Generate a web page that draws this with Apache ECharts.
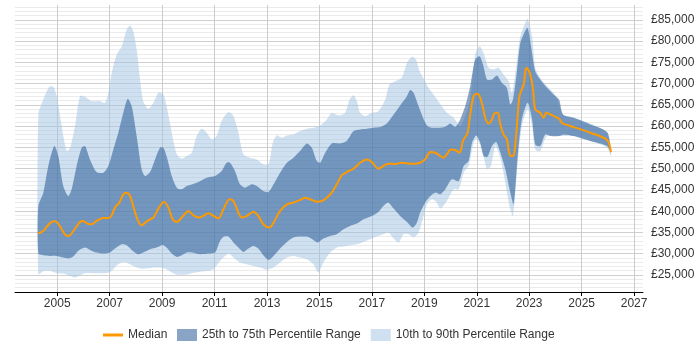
<!DOCTYPE html>
<html>
<head>
<meta charset="utf-8">
<script src="https://cdn.jsdelivr.net/npm/echarts@6/dist/echarts.min.js"></script>
<style>html,body{margin:0;padding:0;background:#fff}#c{width:700px;height:350px}</style>
</head>
<body>
<div id="c"></div>
<script>
// ---- Data (year, salary in GBP) ----
const p90 = [[2004.28,62760],[2004.47,66280],[2004.70,69260],[2004.85,69260],[2004.98,67070],[2005.17,60020],[2005.36,54150],[2005.49,54930],[2005.68,60020],[2005.87,67070],[2006.06,66910],[2006.31,65890],[2006.63,65890],[2006.82,65500],[2006.95,67850],[2007.08,72550],[2007.27,76850],[2007.46,78810],[2007.65,82720],[2007.78,83660],[2007.90,82330],[2008.03,78030],[2008.16,70980],[2008.28,65890],[2008.48,64090],[2008.67,65500],[2008.86,67850],[2009.05,67460],[2009.17,64720],[2009.37,58460],[2009.56,53370],[2009.75,52350],[2009.94,52980],[2010.13,53760],[2010.32,57670],[2010.51,59400],[2010.70,58460],[2010.89,56890],[2011.08,57670],[2011.27,61200],[2011.53,63310],[2011.72,62370],[2011.91,58460],[2012.10,53370],[2012.35,52590],[2012.61,52190],[2012.86,51020],[2013.06,51020],[2013.22,56110],[2013.37,57830],[2013.56,57280],[2013.76,57830],[2014.01,58070],[2014.26,58850],[2014.52,59400],[2014.77,59630],[2015.03,60180],[2015.28,61590],[2015.47,63150],[2015.73,62530],[2015.98,63150],[2016.15,66280],[2016.30,67300],[2016.43,65890],[2016.55,63150],[2016.74,62370],[2017.00,63150],[2017.25,63540],[2017.51,66280],[2017.67,69810],[2017.89,70590],[2018.14,71370],[2018.34,74900],[2018.53,76300],[2018.68,75680],[2018.82,72940],[2019.00,70980],[2019.16,69020],[2019.35,67460],[2019.61,65200],[2019.86,63150],[2020.12,61980],[2020.37,60020],[2020.56,62370],[2020.75,66280],[2020.94,76850],[2021.11,78810],[2021.26,77240],[2021.45,73720],[2021.64,73330],[2021.83,73720],[2022.02,72160],[2022.22,70590],[2022.34,67850],[2022.51,74110],[2022.66,81160],[2022.85,84290],[2022.94,85230],[2023.11,81160],[2023.23,73720],[2023.42,71370],[2023.68,69420],[2023.93,67850],[2024.12,65500],[2024.29,62760],[2024.70,61980],[2025.33,60650],[2025.97,58460],[2026.12,54540]];

const p75 = [[2004.28,41230],[2004.47,44370],[2004.66,50630],[2004.89,55330],[2005.04,52980],[2005.23,45930],[2005.42,43580],[2005.55,45150],[2005.74,50630],[2005.93,54930],[2006.06,55330],[2006.25,52190],[2006.50,49220],[2006.76,49060],[2006.95,50630],[2007.14,54540],[2007.33,58460],[2007.52,63150],[2007.69,66440],[2007.84,64720],[2008.03,57670],[2008.22,49850],[2008.35,48280],[2008.54,49220],[2008.73,52190],[2008.92,54930],[2009.05,54930],[2009.17,52980],[2009.37,48280],[2009.56,45540],[2009.75,45150],[2009.94,45930],[2010.32,46710],[2010.70,47890],[2011.02,48280],[2011.27,49450],[2011.46,51410],[2011.59,51410],[2011.78,49450],[2011.97,46320],[2012.16,45540],[2012.42,46320],[2012.61,45930],[2012.86,44760],[2013.06,44520],[2013.25,46320],[2013.50,49060],[2013.76,51410],[2014.01,52590],[2014.26,54150],[2014.52,55950],[2014.71,54930],[2014.90,51800],[2015.03,51410],[2015.22,53760],[2015.47,55950],[2015.79,55950],[2016.04,56500],[2016.30,58850],[2016.55,59240],[2016.81,59400],[2017.06,59630],[2017.32,59790],[2017.57,60650],[2017.83,62760],[2018.08,64880],[2018.34,67070],[2018.46,68480],[2018.59,67850],[2018.78,64720],[2018.95,61980],[2019.10,60180],[2019.29,59630],[2019.48,59630],[2019.61,59630],[2019.80,59870],[2019.99,60650],[2020.18,59870],[2020.37,61590],[2020.56,64720],[2020.75,69420],[2020.94,75680],[2021.11,76460],[2021.24,74500],[2021.39,70980],[2021.58,70980],[2021.77,71920],[2021.96,70200],[2022.15,69020],[2022.28,65110],[2022.38,66280],[2022.51,71760],[2022.66,79590],[2022.81,81940],[2022.94,83110],[2023.07,78810],[2023.23,72940],[2023.42,70980],[2023.68,69020],[2023.93,67460],[2024.14,66280],[2024.29,62760],[2024.70,61980],[2025.33,60410],[2025.97,58610],[2026.12,54150]];

const p25 = [[2004.28,30040],[2004.47,29650],[2004.72,29490],[2004.98,29490],[2005.23,29100],[2005.42,28870],[2005.61,29340],[2005.80,30670],[2006.06,31450],[2006.25,30900],[2006.50,30280],[2006.76,30040],[2007.01,30280],[2007.20,31220],[2007.46,32230],[2007.65,32000],[2007.84,30900],[2008.09,29880],[2008.28,30280],[2008.54,31060],[2008.79,31450],[2009.02,32080],[2009.17,31450],[2009.37,30040],[2009.56,29260],[2009.75,29650],[2009.94,30280],[2010.13,30280],[2010.45,29880],[2010.76,30040],[2011.02,30280],[2011.21,33020],[2011.36,34030],[2011.53,34030],[2011.72,32620],[2011.91,31450],[2012.10,30430],[2012.29,31220],[2012.48,31840],[2012.67,31220],[2012.86,29650],[2013.06,28550],[2013.25,29490],[2013.50,31220],[2013.76,32780],[2014.01,33800],[2014.26,34030],[2014.52,34030],[2014.77,33250],[2014.93,32620],[2015.15,33560],[2015.41,34190],[2015.66,34580],[2015.92,35760],[2016.17,36540],[2016.43,37090],[2016.68,38100],[2017.00,38890],[2017.25,39830],[2017.44,41230],[2017.63,42020],[2017.83,40610],[2018.08,38890],[2018.34,37480],[2018.56,36150],[2018.72,37320],[2018.84,39670],[2019.03,42020],[2019.23,43580],[2019.42,44370],[2019.61,43970],[2019.80,45150],[2020.05,47500],[2020.31,47110],[2020.50,50630],[2020.69,51800],[2020.82,56110],[2020.98,57830],[2021.13,56110],[2021.26,52980],[2021.41,52820],[2021.58,55330],[2021.74,56260],[2021.90,53760],[2022.09,49850],[2022.28,44370],[2022.41,41630],[2022.56,52980],[2022.72,61590],[2022.94,65500],[2023.11,61590],[2023.23,55720],[2023.42,55330],[2023.61,58070],[2023.81,57670],[2024.14,57670],[2024.31,58070],[2024.70,57670],[2025.33,56500],[2025.97,55330],[2026.12,53760]];

const p10 = [[2004.28,25190],[2004.47,25890],[2004.72,25970],[2004.98,25420],[2005.23,25340],[2005.49,24800],[2005.68,24400],[2005.87,24950],[2006.06,25420],[2006.31,25420],[2006.63,25420],[2006.88,25420],[2007.08,25970],[2007.27,27300],[2007.46,27930],[2007.62,27930],[2007.84,27300],[2008.16,26520],[2008.41,26520],[2008.67,26750],[2008.92,26750],[2009.17,26360],[2009.37,25580],[2009.56,25110],[2009.75,25030],[2010.00,25190],[2010.26,25580],[2010.51,25810],[2010.76,25970],[2010.96,26360],[2011.21,28320],[2011.40,29490],[2011.55,30040],[2011.72,29100],[2011.97,27930],[2012.23,27540],[2012.48,27140],[2012.74,26750],[2012.99,26200],[2013.25,26750],[2013.50,27930],[2013.76,29100],[2014.01,29490],[2014.26,29100],[2014.52,28710],[2014.77,27540],[2014.96,25580],[2015.15,27930],[2015.41,30280],[2015.66,31450],[2015.92,31680],[2016.17,32000],[2016.43,32230],[2016.68,32780],[2016.94,33410],[2017.19,34030],[2017.44,34580],[2017.63,34970],[2017.83,33560],[2018.02,32620],[2018.21,34580],[2018.40,34580],[2018.59,33800],[2018.78,34970],[2018.97,38890],[2019.10,41630],[2019.29,42800],[2019.48,42020],[2019.61,40610],[2019.86,42410],[2020.12,45150],[2020.31,45150],[2020.50,49060],[2020.69,50630],[2020.88,56110],[2021.01,57050],[2021.20,54540],[2021.39,49850],[2021.54,50630],[2021.71,55330],[2021.90,52590],[2022.09,46710],[2022.25,41230],[2022.38,38890],[2022.53,49060],[2022.72,60020],[2022.94,63940],[2023.11,60020],[2023.23,54540],[2023.42,54150],[2023.68,57670],[2024.14,57670],[2024.70,57670],[2025.33,56500],[2025.97,54930],[2026.12,52980]];

const median = [[2004.28,34740],[2004.47,35360],[2004.72,37160],[2004.91,37710],[2005.08,36690],[2005.23,35130],[2005.36,34190],[2005.49,34350],[2005.68,35910],[2005.87,37480],[2005.99,37710],[2006.15,37090],[2006.31,36930],[2006.50,37710],[2006.76,38420],[2006.95,38340],[2007.08,39040],[2007.20,40840],[2007.37,42020],[2007.52,43970],[2007.65,44370],[2007.78,43580],[2007.90,41230],[2008.06,38100],[2008.22,36690],[2008.39,37480],[2008.54,38100],[2008.67,38500],[2008.86,40610],[2009.07,42250],[2009.24,40840],[2009.40,38100],[2009.56,37480],[2009.75,38500],[2010.00,40060],[2010.19,39040],[2010.41,38500],[2010.57,38890],[2010.76,39510],[2010.96,38890],[2011.15,38340],[2011.34,40450],[2011.57,42800],[2011.72,42410],[2011.91,39670],[2012.04,38500],[2012.23,38890],[2012.48,39900],[2012.67,38890],[2012.86,36930],[2013.09,36150],[2013.25,37320],[2013.50,40060],[2013.76,41630],[2014.01,42020],[2014.26,42640],[2014.45,43190],[2014.64,42800],[2014.90,42250],[2015.09,42410],[2015.28,43190],[2015.47,44370],[2015.66,46320],[2015.85,48440],[2016.04,49220],[2016.30,50000],[2016.55,51410],[2016.81,52190],[2017.00,51570],[2017.25,50000],[2017.44,50630],[2017.63,51180],[2017.89,51100],[2018.14,51410],[2018.34,51250],[2018.59,51180],[2018.84,51410],[2019.03,52190],[2019.23,53920],[2019.42,53760],[2019.61,52980],[2019.73,52590],[2019.86,53370],[2020.01,54540],[2020.18,54390],[2020.35,53760],[2020.47,56500],[2020.65,58460],[2020.75,62760],[2020.88,67070],[2021.01,67620],[2021.11,67070],[2021.24,64330],[2021.32,61980],[2021.45,60650],[2021.58,61590],[2021.67,63000],[2021.80,63150],[2021.90,60410],[2022.02,58070],[2022.15,56890],[2022.22,54150],[2022.30,52980],[2022.41,53130],[2022.51,58460],[2022.63,67070],[2022.79,69810],[2022.89,73720],[2023.02,72550],[2023.14,69020],[2023.23,63940],[2023.42,63150],[2023.55,61980],[2023.65,63150],[2023.81,62760],[2024.14,61740],[2024.25,60800],[2024.70,59790],[2025.33,58460],[2025.97,56730],[2026.12,53920]];

const xTickLabels = [2005, 2007, 2009, 2011, 2013, 2015, 2017, 2019, 2021, 2023, 2025, 2027];
const yTickLabels = [25000, 30000, 35000, 40000, 45000, 50000, 55000, 60000, 65000, 70000, 75000, 80000, 85000];
const seriesNames = ['Median', '25th to 75th Percentile Range', '10th to 90th Percentile Range'];

// ---- Chart ----
const FONT = 'Liberation Sans, Arial, sans-serif';
const C_MEDIAN = '#ff9900';
const C_DARK = 'rgba(40,90,150,0.55)';
const C_LIGHT = 'rgba(160,195,225,0.5)';

// minor gridlines every 1,000, major every 5,000
const yGridValues = [];
for (let v = 22000; v <= 88000; v += 1000) yGridValues.push(v);
const yGridColors = yGridValues.map(v => (v % 5000 === 0 ? '#cfcfcf' : '#ebebeb'));

function gbp(v) {
  return '£' + String(v).replace(/\B(?=(\d{3})+(?!\d))/g, ',');
}

function bandSeries(name, upper, lower, fill) {
  return {
    type: 'custom',
    name: name,
    coordinateSystem: 'cartesian2d',
    itemStyle: { color: fill },
    silent: true,
    data: upper.concat(lower),
    encode: { x: 0, y: 1 },
    renderItem: function (params, api) {
      if (params.dataIndex !== 0) return null;
      const pts = upper.map(p => api.coord(p))
        .concat(lower.slice().reverse().map(p => api.coord(p)));
      return {
        type: 'polygon',
        shape: { points: pts, smooth: 0.25 },
        style: { fill: fill, stroke: null }
      };
    }
  };
}

const legendText = { fontSize: 12, color: '#333', fontFamily: FONT };

const chart = echarts.init(document.getElementById('c'), null, { renderer: 'canvas' });
chart.setOption({
  animation: false,
  backgroundColor: '#ffffff',
  textStyle: { fontFamily: FONT },
  grid: { left: 15, right: 57, top: 5, bottom: 58, containLabel: false },
  legend: [
    {
      left: 98,
      top: 324,
      itemWidth: 20,
      itemHeight: 3,
      icon: 'rect',
      textStyle: legendText,
      data: [seriesNames[0]]
    },
    {
      left: 172,
      top: 324,
      itemWidth: 20,
      itemHeight: 12,
      itemGap: 10,
      icon: 'rect',
      textStyle: legendText,
      data: [seriesNames[1], seriesNames[2]]
    }
  ],
  xAxis: {
    type: 'value',
    min: 2003.39,
    max: 2027.34,
    axisLine: { show: true, lineStyle: { color: '#000', width: 1 } },
    axisTick: { show: true, length: 4, customValues: xTickLabels, lineStyle: { color: '#000' } },
    axisLabel: { customValues: xTickLabels, formatter: v => String(v), color: '#333', fontSize: 12, margin: 6, fontFamily: FONT },
    splitLine: { show: true, lineStyle: { color: '#cccccc', width: 1 } }
  },
  yAxis: {
    type: 'value',
    position: 'right',
    min: 21000,
    max: 88500,
    axisLine: { show: false },
    axisTick: { show: false, customValues: yGridValues },
    axisLabel: { customValues: yTickLabels, formatter: gbp, color: '#333', fontSize: 12, margin: 8, fontFamily: FONT },
    splitLine: { show: true, lineStyle: { color: yGridColors, width: 1 } }
  },
  series: [
    bandSeries(seriesNames[2], p90, p10, C_LIGHT),
    bandSeries(seriesNames[1], p75, p25, C_DARK),
    {
      type: 'line',
      name: seriesNames[0],
      data: median,
      smooth: 0.3,
      showSymbol: false,
      symbol: 'none',
      lineStyle: { color: C_MEDIAN, width: 2 },
      itemStyle: { color: C_MEDIAN },
      z: 5
    }
  ]
});
</script>
</body>
</html>
